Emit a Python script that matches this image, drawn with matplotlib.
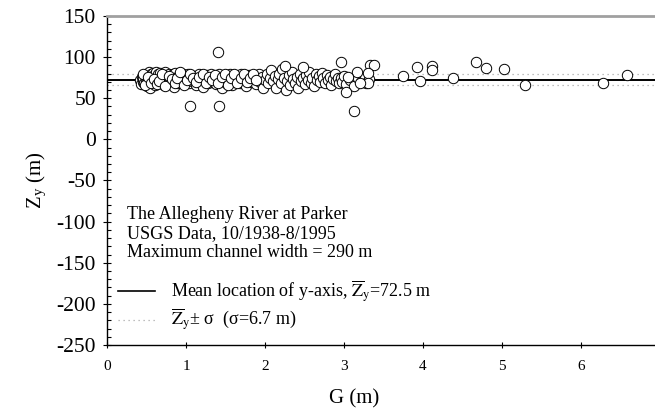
import matplotlib
matplotlib.use("Agg")
import matplotlib.pyplot as plt
from matplotlib.ticker import MultipleLocator
from matplotlib.lines import Line2D

plt.rcParams["font.family"] = ["Liberation Serif", "DejaVu Serif"]
plt.rcParams["mathtext.fontset"] = "stix"
plt.rcParams["axes.unicode_minus"] = False

# ---- data: G (m) vs Z_y (m) ----
G = [
    0.42, 0.43, 0.44, 0.45, 0.46, 0.47, 0.48, 0.49, 0.50, 0.50,
    0.51, 0.52, 0.53, 0.54, 0.55, 0.55, 0.56, 0.57, 0.58, 0.58,
    0.59, 0.60, 0.61, 0.62, 0.63, 0.64, 0.65, 0.66, 0.67, 0.68,
    0.69, 0.70, 0.71, 0.72, 0.73, 0.74, 0.75, 0.76, 0.77, 0.78,
    0.79, 0.80, 0.81, 0.82, 0.83, 0.84, 0.85, 0.86, 0.87, 0.88,
    0.90, 0.92, 0.94, 0.96, 0.98, 1.00, 1.02, 1.04, 1.06, 1.08,
    1.10, 1.12, 1.14, 1.16, 1.18, 1.20, 1.22, 1.24, 1.26, 1.28,
    1.30, 1.32, 1.34, 1.36, 1.38, 1.40, 1.42, 1.44, 1.46, 1.48,
    1.50, 1.52, 1.54, 1.56, 1.58, 1.60, 1.62, 1.64, 1.66, 1.68,
    1.70, 1.72, 1.74, 1.76, 1.78, 1.80, 1.82, 1.84, 1.86, 1.88,
    1.90, 1.92, 1.94, 1.96, 1.98, 2.00, 2.02, 2.04, 2.06, 2.08,
    2.10, 2.12, 2.14, 2.16, 2.18, 2.20, 2.22, 2.24, 2.26, 2.28,
    2.30, 2.32, 2.34, 2.36, 2.38, 2.40, 2.42, 2.44, 2.46, 2.48,
    2.50, 2.52, 2.54, 2.56, 2.58, 2.60, 2.62, 2.64, 2.66, 2.68,
    2.70, 2.72, 2.74, 2.76, 2.78, 2.80, 2.82, 2.84, 2.86, 2.88,
    2.90, 2.92, 2.94, 2.96, 2.98, 3.00, 3.02, 3.08, 3.12, 3.18,
    3.22, 3.26, 3.28, 3.32,
    0.45, 0.48, 0.52, 0.56, 0.60, 0.63, 0.66, 0.70, 0.74, 0.78,
    0.82, 0.86, 0.89, 0.93, 0.97, 1.01, 1.05, 1.09, 1.13, 1.17,
    1.21, 1.25, 1.29, 1.33, 1.37, 1.41, 1.45, 1.49, 1.53, 1.57,
    1.61, 1.65, 1.69, 1.73, 1.77, 1.81, 1.85, 1.89,
    1.40, 1.05, 1.42, 3.13, 2.96, 3.03, 3.33, 3.38, 3.16, 3.30,
    3.30, 3.20, 3.05, 2.25, 2.48, 3.75, 3.92, 3.96, 4.11, 4.11,
    4.38, 4.67, 4.80, 5.03, 5.29, 6.28, 6.58,
]
ZY = [
    72, 67, 76, 70, 74, 68, 78, 72, 80, 65,
    75, 70, 82, 77, 73, 62, 79, 69, 81, 75,
    71, 78, 66, 82, 74, 79, 70, 76, 81, 68,
    77, 73, 80, 66, 75, 82, 71, 78, 69, 74,
    80, 72, 77, 67, 79, 74, 64, 81, 71, 76,
    69, 78, 73, 80, 70, 75, 79, 68, 74, 71,
    77, 66, 73, 79, 70, 75, 64, 72, 78, 68,
    74, 80, 70, 76, 67, 73, 79, 71, 63, 75,
    69, 78, 72, 80, 66, 74, 70, 77, 73, 68,
    79, 71, 75, 65, 73, 78, 70, 76, 72, 67,
    74, 79, 70, 76, 63, 72, 80, 68, 75, 84,
    71, 77, 62, 73, 80, 69, 86, 75, 60, 71,
    78, 66, 82, 73, 68, 76, 63, 80, 71, 74,
    67, 78, 72, 82, 69, 75, 65, 79, 72, 77,
    70, 81, 74, 68, 78, 72, 76, 66, 73, 79,
    71, 75, 68, 74, 70, 77, 67, 72, 65, 74,
    70, 76, 68, 73,
    80, 66, 76, 68, 73, 67, 71, 79, 65, 77,
    73, 68, 75, 82, 66, 72, 80, 75, 70, 76,
    80, 69, 76, 72, 78, 68, 76, 80, 66, 75,
    79, 68, 74, 80, 70, 74, 80, 72,
    106, 41, 41, 35, 94, 58, 90, 90, 82, 81,
    68, 68, 76, 89, 88, 77.5, 88, 71, 89, 84,
    75, 94, 87, 85, 66, 69, 78,
]
Z_MEAN = 72.5
Z_SIGMA = 6.7

fig = plt.figure(figsize=(6.55, 4.16), dpi=100)
ax = fig.add_axes([0.1634, 0.1707, 0.8443, 0.7909])

ax.scatter(G, ZY, s=56, facecolor="white", edgecolor="black", linewidths=0.7, zorder=3)
ax.axhline(Z_MEAN, color="black", lw=1.4, zorder=2)
ax.axhline(Z_MEAN + Z_SIGMA, color="#aaaaaa", lw=0.9, ls=(0, (1, 3)), zorder=1)
ax.axhline(Z_MEAN - Z_SIGMA, color="#aaaaaa", lw=0.9, ls=(0, (1, 3)), zorder=1)

ax.set_xlim(0, 7)
ax.set_ylim(-250, 150)
ax.xaxis.set_major_locator(MultipleLocator(1))
ax.yaxis.set_major_locator(MultipleLocator(50))
ax.yaxis.set_minor_locator(MultipleLocator(10))
ax.tick_params(axis="y", which="major", direction="inout", length=6, labelsize=15.5, width=0.8, pad=5)
ax.tick_params(axis="y", which="minor", direction="in", length=3, width=0.8)
ax.tick_params(axis="x", which="major", direction="inout", length=5, labelsize=11, width=0.8, pad=8)

ax.spines["right"].set_visible(False)
ax.spines["top"].set_color("#a0a0a0")
ax.spines["top"].set_linewidth(2.0)
ax.spines["left"].set_linewidth(1.0)
ax.spines["bottom"].set_linewidth(1.0)

ax.set_xlabel("G (m)", fontsize=15)
ax.set_ylabel(r"Z$_\mathregular{y}$ (m)", fontsize=15)
ax.xaxis.set_label_coords(0.447, -0.135)
ax.yaxis.set_label_coords(-0.105, 0.5)

ax.text(0.036, 0.34, "The Allegheny River at Parker\nUSGS Data, 10/1938-8/1995\nMaximum channel width = 290 m",
        transform=ax.transAxes, fontsize=13, va="center", ha="left", linespacing=1.15)

handles = [
    Line2D([], [], color="black", lw=1.2),
    Line2D([], [], color="#aaaaaa", lw=0.9, ls=(0, (1, 3))),
]
labels = [
    r"Mean location of y-axis, $\overline{\mathrm{Z}}_\mathrm{y}$=72.5 m",
    r"$\overline{\mathrm{Z}}_\mathrm{y}$± σ  (σ=6.7 m)",
]
ax.legend(handles, labels, loc="lower left", bbox_to_anchor=(0.02, 0.035), frameon=False,
          fontsize=13, handlelength=2.05, handletextpad=0.9, labelspacing=0.15,
          borderaxespad=0, borderpad=0)

fig.savefig("out.png", dpi=100)
